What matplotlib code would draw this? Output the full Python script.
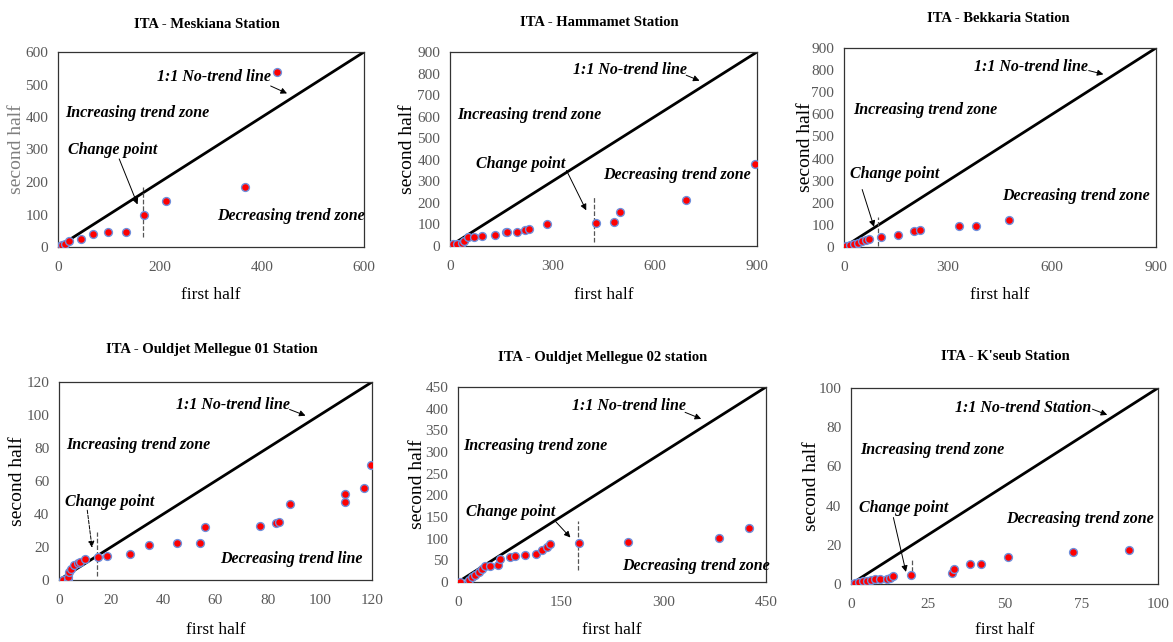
import numpy as np
import matplotlib
matplotlib.use("Agg")
import matplotlib.pyplot as plt

plt.rcParams['font.family'] = ['Liberation Serif', 'DejaVu Serif']

# ---- data (first half, second half) ----
mesk_x = [0, 3, 7, 14, 22, 46, 69, 99, 133, 169, 212, 367, 430]
mesk_y = [0, 2, 5, 10, 20, 25, 41, 45, 45, 99, 141, 185, 537]

hamm_x = [0, 8, 20, 34, 41, 54, 70, 94, 133, 163, 168, 197, 220, 231, 285, 428, 482, 497, 691, 894]
hamm_y = [0, 8, 11, 15, 23, 43, 43, 46, 52, 66, 66, 66, 74, 80, 100, 106, 112, 160, 212, 380]

bekk_x = [0, 7, 16, 28, 40, 53, 63, 72, 106, 156, 201, 218, 331, 380, 476]
bekk_y = [0, 6, 11, 14, 17, 26, 30, 36, 46, 56, 71, 79, 93, 97, 122]

oum1_x = [1.5, 3.5, 3.5, 4, 4.7, 5.6, 7.3, 8.2, 9.8, 15, 18.4, 27.3, 34.5, 45.4, 53.9, 56,
          77, 83.3, 84.2, 88.6, 109.8, 109.8, 116.8, 119.5]
oum1_y = [0, 0, 2, 5, 6.5, 9, 10.5, 11, 13, 14, 14.5, 16, 21, 22.5, 22.5, 32,
          33, 34.7, 35, 46, 47.5, 52, 56, 70]

oum2_x = [3, 15.6, 20, 25, 30, 35, 40, 47, 58, 62, 76.5, 83, 98, 114, 123, 130, 135, 177, 248, 382, 425]
oum2_y = [0, 5, 12, 17, 22, 31, 36, 36, 39, 52, 58, 60, 62, 64, 73, 80, 87, 90, 93, 102, 125]

kseu_x = [0, 1.3, 2.7, 4, 5.3, 6.4, 7.8, 9.4, 11.8, 12.7, 13.6, 19.7, 32.9, 33.5, 38.7, 42.4, 51.3, 72.3, 90.6]
kseu_y = [0, 0.5, 1, 1.4, 1.7, 2, 2.4, 2.4, 2.7, 3, 4.3, 4.5, 5.7, 7.4, 10, 10.3, 13.7, 16.1, 17.5]

titles = ["ITA - Meskiana Station", "ITA - Hammamet Station", "ITA - Bekkaria Station",
          "ITA - Ouldjet Mellegue 01 Station", "ITA - Ouldjet Mellegue 02 station", "ITA - K'seub Station"]
line_labels = ["1:1 No-trend line"] * 5 + ["1:1 No-trend Station"]
decr_labels = ["Decreasing trend zone"] * 3 + ["Decreasing trend line"] + ["Decreasing trend zone"] * 2
xmax_list = [600, 900, 900, 120, 450, 100]
xtick_list = [[0, 200, 400, 600], [0, 300, 600, 900], [0, 300, 600, 900],
              [0, 20, 40, 60, 80, 100, 120], [0, 150, 300, 450], [0, 25, 50, 75, 100]]
ytick_step = [100, 100, 100, 20, 50, 20]
change_x = [166, 423, 98, 14.6, 176, 20]

# ---- layout (pixels) ----
W, H = 1173, 642
boxes = [(58, 52, 364, 247), (450, 52, 757, 246), (844, 48, 1156, 247),
         (59, 382, 372, 580), (458, 387, 766, 582), (851, 388, 1158, 584)]
title_pos = [(207, 25), (599, 22), (998, 18), (212, 350), (603, 358), (1005, 357)]
xlab_y = [295, 295, 295, 630, 630, 630]
ylab_x = [17, 408, 805, 18, 418, 812]  # centre of the vertical label

# annotation anchors in data units
ann = [
    dict(line=(195, 523), la=((412, 499), (454, 469)), inc=(14, 412), cp=(20, 297),
         ca=((118, 279), (158, 123)), dec=(312, 94), dash=(30, 185)),
    dict(line=(360, 818), la=((685, 797), (739, 762)), inc=(22, 608), cp=(76, 382),
         ca=((338, 362), (403, 154)), dec=(450, 331), dash=(20, 234)),
    dict(line=(375, 816), la=((698, 801), (756, 778)), inc=(26, 619), cp=(16, 330),
         ca=((50, 272), (89, 79)), dec=(457, 231), dash=(3, 135)),
    dict(line=(45, 106), la=((87.4, 104), (95.5, 99)), inc=(2.6, 82), cp=(2.2, 47),
         ca=((10.7, 44), (12.8, 18)), dec=(61.9, 12.5), dash=(2.4, 29)),
    dict(line=(166, 405), la=((328, 394), (359, 374)), inc=(8, 314), cp=(11, 162),
         ca=((140, 144), (167, 98)), dec=(240, 36), dash=(27, 141)),
    dict(line=(34, 90), la=((77.8, 89.7), (84.3, 85.8)), inc=(3.1, 68.6), cp=(2.7, 39),
         ca=((13.6, 35.3), (18.1, 4.8)), dec=(50.6, 33), dash=(3, 12)),
]

xs = [mesk_x, hamm_x, bekk_x, oum1_x, oum2_x, kseu_x]
ys = [mesk_y, hamm_y, bekk_y, oum1_y, oum2_y, kseu_y]

fig = plt.figure(figsize=(W / 100, H / 100), dpi=100)

for i in range(6):
    l, t, r, b = boxes[i]
    ax = fig.add_axes([l / W, 1 - b / H, (r - l) / W, (b - t) / H])
    m = xmax_list[i]
    ax.set_xlim(0, m)
    ax.set_ylim(0, m)
    ax.plot([0, m], [0, m], color='black', lw=2, zorder=2)
    ax.scatter(xs[i], ys[i], s=32, c='red', edgecolors='#6f8fdc', linewidths=1.0, zorder=3)

    a = ann[i]
    ax.plot([change_x[i], change_x[i]], a['dash'], ls='--', color='#555555', lw=0.9, zorder=2)
    kw = dict(fontsize=11.5, fontweight='bold', fontstyle='italic', va='center', ha='left')
    ax.text(*a['line'], line_labels[i], **kw)
    ax.text(*a['inc'], "Increasing trend zone", **kw)
    ax.text(*a['cp'], "Change point", **kw)
    ax.text(*a['dec'], decr_labels[i], **kw)
    ax.annotate('', xy=a['la'][1], xytext=a['la'][0],
                arrowprops=dict(arrowstyle='-|>', color='black', lw=0.7, mutation_scale=9))
    ax.annotate('', xy=a['ca'][1], xytext=a['ca'][0],
                arrowprops=dict(arrowstyle='-|>', color='black', lw=0.7, mutation_scale=9,
                                linestyle='--' if i == 3 else '-'))

    ax.set_xticks(xtick_list[i])
    ax.set_yticks(np.arange(0, m + 1, ytick_step[i]))
    ax.tick_params(length=0, labelsize=11, labelcolor='#595959')
    ax.tick_params(axis='x', pad=10)
    ax.tick_params(axis='y', pad=7)
    for s in ax.spines.values():
        s.set_color('#333333')
        s.set_linewidth(0.9)

    cx = (l + r) / 2
    fig.text(ylab_x[i] / W, 1 - (t + b) / 2 / H, "second half", fontsize=14, rotation=90,
             color='#7f7f7f' if i == 0 else 'black', ha='center', va='center')
    fig.text(cx / W, 1 - xlab_y[i] / H, "first half", fontsize=12.5, ha='center', va='center')
    tx, ty = title_pos[i]
    fig.text(tx / W, 1 - ty / H, titles[i], fontsize=10.5, fontweight='bold', ha='center', va='center')

fig.savefig("out.png", dpi=100)
